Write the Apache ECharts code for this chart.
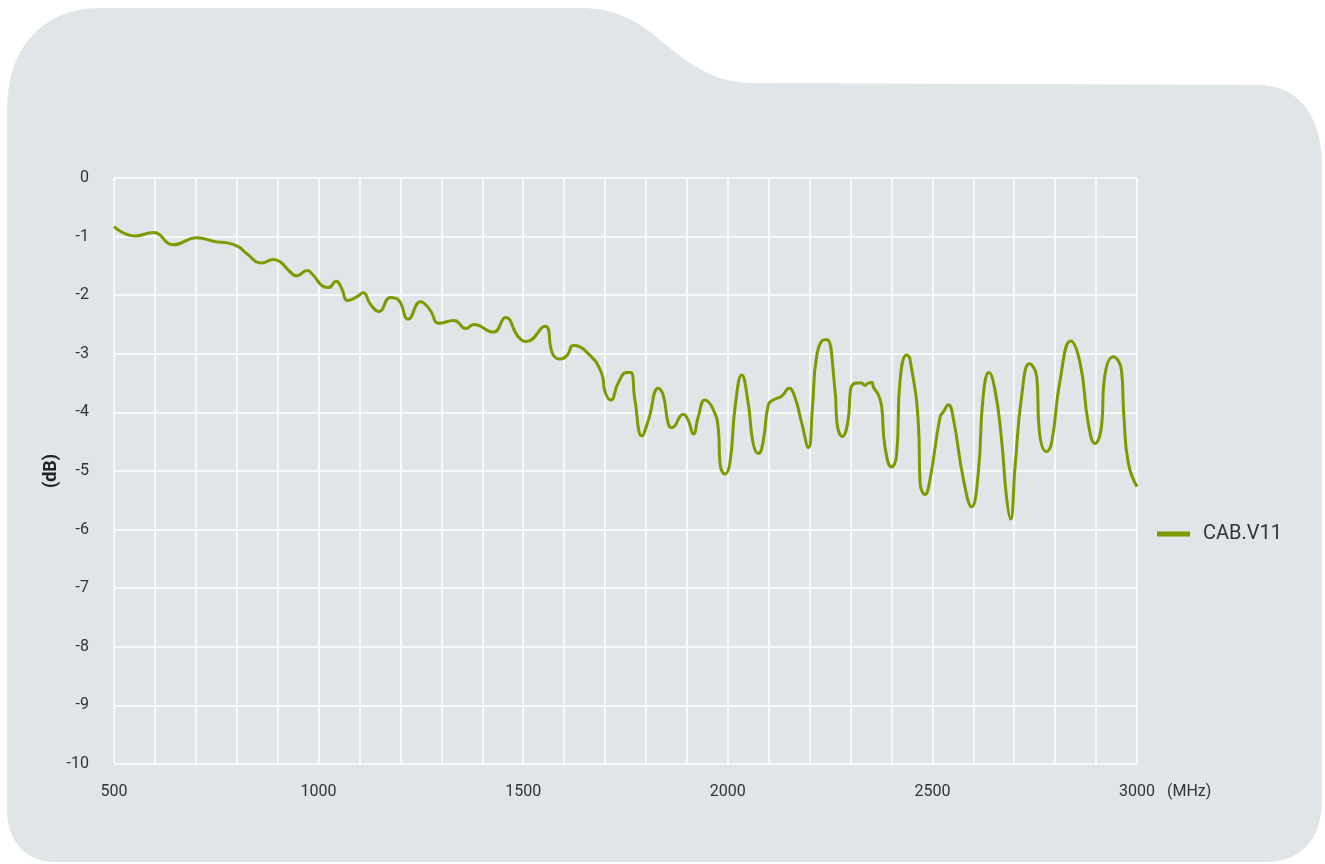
<!DOCTYPE html>
<html>
<head>
<meta charset="utf-8">
<script src="https://cdn.jsdelivr.net/npm/echarts@6/dist/echarts.min.js"></script>
<style>
html,body{margin:0;padding:0;background:#ffffff;}
#chart{width:1325px;height:864px;}
</style>
</head>
<body>
<div id="chart"></div>
<script>
// Frequency (MHz)
const freqMHz = [500,551,596,645,702,751,771,804,824,861,889,906,930,946,972,987,1011,1024,1043,1056,1071,1093,1109,1127,1148,1175,1195,1219,1249,1272,1294,1331,1360,1379,1427,1457,1488,1508,1553,1572,1590,1608,1622,1655,1692,1700,1714,1732,1753,1763,1773,1790,1806,1830,1842,1855,1863,1891,1903,1916,1928,1944,1965,1977,1981,1993,2005,2018,2034,2050,2062,2075,2087,2099,2111,2132,2150,2162,2180,2197,2207,2217,2237,2243,2262,2267,2280,2294,2299,2302,2315,2327,2335,2343,2352,2356,2368,2376,2384,2400,2412,2421,2437,2445,2466,2470,2482,2494,2519,2527,2539,2551,2576,2596,2612,2624,2638,2653,2669,2681,2691,2702,2718,2737,2755,2761,2779,2791,2812,2838,2861,2881,2897,2914,2919,2942,2962,2968,2979,3000];
// Attenuation (dB)
const attenuationDB = [-0.83,-0.99,-0.93,-1.14,-1.02,-1.09,-1.10,-1.17,-1.29,-1.45,-1.39,-1.43,-1.60,-1.67,-1.58,-1.66,-1.85,-1.87,-1.76,-1.88,-2.09,-2.03,-1.96,-2.16,-2.28,-2.04,-2.08,-2.41,-2.11,-2.25,-2.48,-2.43,-2.57,-2.50,-2.63,-2.38,-2.71,-2.79,-2.53,-3.00,-3.09,-3.02,-2.86,-2.97,-3.34,-3.65,-3.79,-3.50,-3.32,-3.32,-3.79,-4.40,-4.13,-3.59,-3.70,-4.21,-4.26,-4.03,-4.13,-4.37,-4.07,-3.79,-3.96,-4.30,-4.87,-5.05,-4.87,-3.90,-3.36,-3.85,-4.53,-4.70,-4.47,-3.87,-3.79,-3.72,-3.59,-3.70,-4.16,-4.60,-3.90,-3.05,-2.76,-2.76,-3.62,-4.19,-4.41,-4.13,-3.67,-3.56,-3.50,-3.50,-3.54,-3.50,-3.49,-3.57,-3.70,-3.90,-4.58,-4.93,-4.76,-3.45,-3.02,-3.08,-4.24,-5.21,-5.40,-5.15,-4.07,-3.99,-3.87,-4.10,-5.15,-5.61,-5.04,-3.73,-3.32,-3.62,-4.47,-5.44,-5.82,-4.93,-3.73,-3.17,-3.39,-4.30,-4.67,-4.53,-3.45,-2.78,-3.16,-4.19,-4.53,-4.19,-3.50,-3.05,-3.28,-4.07,-4.87,-5.27];
const seriesName = 'CAB.V11';
const xLabelTicks = [500,1000,1500,2000,2500,3000];
const xUnit = '(MHz)';
const yUnit = '(dB)';

// decorative card outline (start point + cubic/line segments)
function cardOutline() {
  const segs = [
    ['M',7,110],
    ['C',7,45, 45,8, 100,8],
    ['L',580,8],
    ['C',625,8, 645,28, 670,48],
    ['C',700,72, 720,83, 757,83],
    ['L',1258,85],
    ['C',1298,85, 1322,115, 1322,167],
    ['L',1322,800],
    ['C',1322,840, 1300,862, 1265,862],
    ['L',55,862],
    ['C',25,862, 7,840, 7,810]
  ];
  const pts = [];
  let cx = 0, cy = 0;
  segs.forEach(s => {
    if (s[0] === 'M' || s[0] === 'L') { cx = s[1]; cy = s[2]; pts.push([cx, cy]); }
    else {
      const [ , x1,y1,x2,y2,x3,y3] = s;
      for (let i = 1; i <= 24; i++) {
        const t = i/24, u = 1-t;
        pts.push([u*u*u*cx + 3*u*u*t*x1 + 3*u*t*t*x2 + t*t*t*x3,
                  u*u*u*cy + 3*u*u*t*y1 + 3*u*t*t*y2 + t*t*t*y3]);
      }
      cx = x3; cy = y3;
    }
  });
  return pts;
}

const chart = echarts.init(document.getElementById('chart'), null, {renderer:'canvas'});
const labelFont = "Roboto, 'DejaVu Sans', sans-serif";
const data = freqMHz.map((f,i)=>[f, attenuationDB[i]]);

chart.setOption({
  backgroundColor: '#ffffff',
  animation: false,
  graphic: [{
    type: 'polygon',
    z: -10,
    silent: true,
    shape: { points: cardOutline() },
    style: { fill: '#e0e5e8' }
  }],
  grid: { left: 114, right: 188, top: 178, bottom: 100, containLabel: false },
  legend: {
    orient: 'vertical',
    left: 1152,
    top: 519,
    icon: 'rect',
    itemWidth: 33,
    itemHeight: 5,
    data: [seriesName],
    textStyle: { fontFamily: labelFont, fontSize: 20, color: '#333333', padding: [0,0,0,8] }
  },
  xAxis: {
    type: 'value',
    min: 500, max: 3000, interval: 100,
    name: xUnit,
    nameLocation: 'end',
    nameGap: 30,
    nameMoveOverlap: false,
    nameTextStyle: { fontFamily: labelFont, fontSize: 16, color: '#333333', verticalAlign: 'top', padding: [20,0,0,0] },
    axisLine: { show: false, onZero: false },
    axisTick: { show: false },
    axisLabel: {
      margin: 20,
      fontFamily: labelFont, fontSize: 16, color: '#333333',
      formatter: v => xLabelTicks.includes(v) ? String(v) : ''
    },
    splitLine: { show: true, lineStyle: { color: '#ffffff', width: 1.5 } }
  },
  yAxis: {
    type: 'value',
    min: -10, max: 0, interval: 1,
    name: yUnit,
    nameLocation: 'middle',
    nameGap: 54,
    nameRotate: 90,
    nameMoveOverlap: false,
    nameTextStyle: { fontFamily: labelFont, fontSize: 18, fontWeight: 'bold', color: '#222222' },
    axisLine: { show: false, onZero: false },
    axisTick: { show: false },
    axisLabel: { margin: 25, fontFamily: labelFont, fontSize: 16, color: '#333333' },
    splitLine: { show: true, lineStyle: { color: '#ffffff', width: 1.5 } }
  },
  series: [{
    name: seriesName,
    type: 'line',
    data: data,
    smooth: 0.5,
    showSymbol: false,
    symbol: 'none',
    lineStyle: { color: '#7b9c00', width: 3 },
    itemStyle: { color: '#7b9c00' }
  }]
});
</script>
</body>
</html>
